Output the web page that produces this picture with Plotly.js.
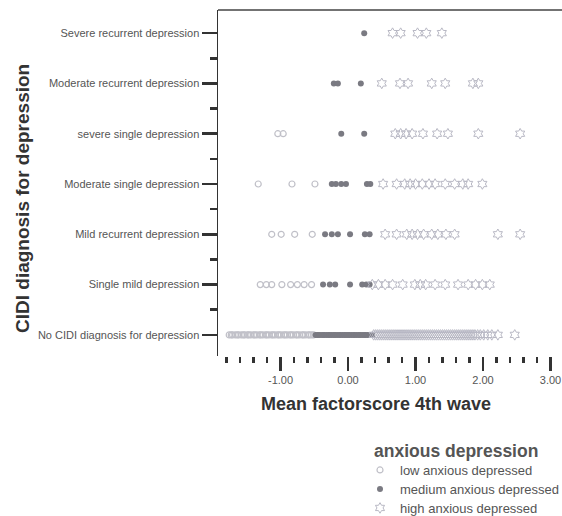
<!DOCTYPE html>
<html>
<head>
<meta charset="utf-8">
<script src="https://cdn.plot.ly/plotly-3.0.1.min.js"></script>
<style>html,body{margin:0;padding:0;background:#fff;}#chart{width:562px;height:516px;}</style>
</head>
<body>
<div id="chart"></div>
<script>
// Categories, bottom (index 0) to top (index 6)
const categories = [
  "No CIDI diagnosis for depression",
  "Single mild depression",
  "Mild recurrent depression",
  "Moderate single depression",
  "severe single depression",
  "Moderate recurrent depression",
  "Severe recurrent depression"
];
const groupNames = ["low anxious depressed", "medium anxious depressed", "high anxious depressed"];
const xTickVals = [-1, 0, 1, 2, 3];
const xTickText = ["-1.00", "0.00", "1.00", "2.00", "3.00"];

// Mean factorscore values per category (same order as categories)
const lowNoCIDI = [-1.76,-1.73,-1.71,-1.67,-1.64,-1.62,-1.58,-1.55,-1.53,-1.49,-1.47,-1.44,-1.40,-1.38,-1.35,-1.31,-1.29,-1.26,-1.22,-1.20,-1.17,-1.13,-1.11,-1.08,-1.04,-1.02,-0.99,-0.95,-0.93,-0.90,-0.86,-0.84,-0.81,-0.77,-0.75,-0.72,-0.68,-0.66,-0.63,-0.59,-0.57,-0.54,-0.51];
const lowSingleMild = [-1.30,-1.21,-1.13,-0.98,-0.85,-0.75,-0.65,-0.54];
const lowMildRec = [-1.13,-0.99,-0.79,-0.53];
const lowModSingle = [-1.33,-0.83,-0.49];
const lowSevSingle = [-1.04,-0.96];
const lowModRec = [];
const lowSevRec = [];

const medNoCIDI = [-0.48,-0.45,-0.43,-0.40,-0.37,-0.35,-0.32,-0.29,-0.27,-0.24,-0.21,-0.19,-0.16,-0.13,-0.11,-0.08,-0.05,-0.03,0.00,0.02,0.05,0.08,0.10,0.13,0.16,0.18,0.21,0.24,0.26,0.29,0.32,0.34,0.36];
const medSingleMild = [-0.37,-0.27,-0.19,0.03,0.21,0.27,0.32];
const medMildRec = [-0.34,-0.24,-0.15,0.03,0.25,0.32];
const medModSingle = [-0.24,-0.18,-0.10,-0.03,0.28,0.33];
const medSevSingle = [-0.10,0.24];
const medModRec = [-0.21,-0.15,0.19];
const medSevRec = [0.24];

const highNoCIDI = [0.38,0.41,0.44,0.47,0.50,0.53,0.56,0.59,0.62,0.65,0.68,0.71,0.74,0.77,0.80,0.83,0.86,0.89,0.92,0.95,0.98,1.01,1.04,1.07,1.10,1.13,1.16,1.19,1.22,1.25,1.28,1.31,1.34,1.37,1.40,1.43,1.46,1.49,1.52,1.55,1.58,1.61,1.64,1.67,1.70,1.73,1.76,1.79,1.82,1.85,1.88,1.92,1.96,2.01,2.07,2.13,2.22,2.47];
const highSingleMild = [0.36,0.45,0.55,0.66,0.81,0.99,1.07,1.15,1.29,1.44,1.63,1.78,1.89,1.99,2.10];
const highMildRec = [0.55,0.72,0.87,0.95,1.03,1.12,1.24,1.33,1.45,1.58,2.22,2.55];
const highModSingle = [0.52,0.72,0.84,0.92,1.00,1.10,1.20,1.29,1.44,1.58,1.70,1.78,1.99];
const highSevSingle = [0.70,0.78,0.86,0.95,1.11,1.32,1.48,1.93,2.55];
const highModRec = [0.50,0.77,0.89,1.24,1.44,1.85,1.93];
const highSevRec = [0.66,0.78,1.03,1.16,1.39];

const lowRows = [lowNoCIDI, lowSingleMild, lowMildRec, lowModSingle, lowSevSingle, lowModRec, lowSevRec];
const medRows = [medNoCIDI, medSingleMild, medMildRec, medModSingle, medSevSingle, medModRec, medSevRec];
const highRows = [highNoCIDI, highSingleMild, highMildRec, highModSingle, highSevSingle, highModRec, highSevRec];

function flatten(rows) {
  const xs = [], ys = [];
  rows.forEach((vals, i) => vals.forEach(v => { xs.push(v); ys.push(i); }));
  return {x: xs, y: ys};
}
const lowPts = flatten(lowRows), medPts = flatten(medRows), highPts = flatten(highRows);

const traces = [
  {type: 'scatter', mode: 'markers', name: groupNames[0], x: lowPts.x, y: lowPts.y, legend: 'legend',
   marker: {symbol: 'circle-open', size: 6, color: '#c0c0c8', line: {width: 1.2}}},
  {type: 'scatter', mode: 'markers', name: groupNames[1], x: medPts.x, y: medPts.y, legend: 'legend2',
   marker: {symbol: 'circle', size: 6, color: '#7a7a82'}},
  {type: 'scatter', mode: 'markers', name: groupNames[2], x: highPts.x, y: highPts.y, legend: 'legend3',
   marker: {symbol: 'hexagram-open', size: 8, color: '#b8b8c4', line: {width: 1}}}
];

// plot area in pixels: left 218, top 10, width 344, height 346
const PL = 218, PB = 356, PW = 344, PH = 346;
const px = v => (v - PL) / PW;
const py = v => (PB - v) / PH;
const legBase = {xanchor: 'left', yanchor: 'middle', font: {size: 13, color: '#555'}, bgcolor: 'rgba(0,0,0,0)', borderwidth: 0};

const layout = {
  width: 562, height: 516,
  margin: {l: 218, r: 0, t: 10, b: 160, autoexpand: false},
  paper_bgcolor: '#fff', plot_bgcolor: '#fff',
  font: {family: 'Liberation Sans, Arial, sans-serif', color: '#555'},
  showlegend: true,
  legend: Object.assign({x: px(360), y: py(470)}, legBase),
  legend2: Object.assign({x: px(360), y: py(489)}, legBase),
  legend3: Object.assign({x: px(360), y: py(508)}, legBase),
  xaxis: {range: [-1.926, 3.17], showgrid: false, zeroline: false, showline: false,
          tickmode: 'array', tickvals: xTickVals, ticktext: xTickText, ticklabeloverflow: 'allow',
          ticks: 'outside', ticklen: 14, tickwidth: 2.2, tickcolor: '#333',
          tickfont: {size: 11, color: '#555'},
          minor: {tickmode: 'linear', tick0: 0, dtick: 0.2, ticks: 'outside', ticklen: 6, tickwidth: 2.2, tickcolor: '#333', showgrid: false}},
  yaxis: {range: [-0.42, 6.46], showgrid: false, zeroline: false, showline: true, linecolor: '#333', linewidth: 1.5,
          tickmode: 'array', tickvals: categories.map((c, i) => i), ticktext: categories,
          ticks: 'outside', ticklen: 15, tickwidth: 2.5, tickcolor: '#333',
          tickfont: {size: 11, color: '#555'},
          minor: {tickmode: 'linear', tick0: 0.5, dtick: 1, ticks: 'outside', ticklen: 7, tickwidth: 2.5, tickcolor: '#333', showgrid: false}},
  shapes: [{type: 'line', xref: 'paper', yref: 'paper', x0: 0, x1: 1, y0: 1, y1: 1, line: {color: '#444', width: 1.5}}],
  annotations: [
    {xref: 'paper', yref: 'paper', x: px(372), y: py(451), xanchor: 'left', yanchor: 'middle',
     showarrow: false, text: 'anxious depression', font: {size: 17.5, color: '#555', weight: 'bold'}},
    {xref: 'paper', yref: 'paper', x: px(376), y: py(404), xanchor: 'center', yanchor: 'middle',
     showarrow: false, text: 'Mean factorscore 4th wave', font: {size: 18, color: '#333', weight: 'bold'}},
    {xref: 'paper', yref: 'paper', x: px(22), y: py(199), xanchor: 'center', yanchor: 'middle', textangle: -90,
     showarrow: false, text: 'CIDI diagnosis for depression', font: {size: 19, color: '#333', weight: 'bold'}}
  ]
};

Plotly.newPlot('chart', traces, layout, {displayModeBar: false, staticPlot: true});
</script>
</body>
</html>
